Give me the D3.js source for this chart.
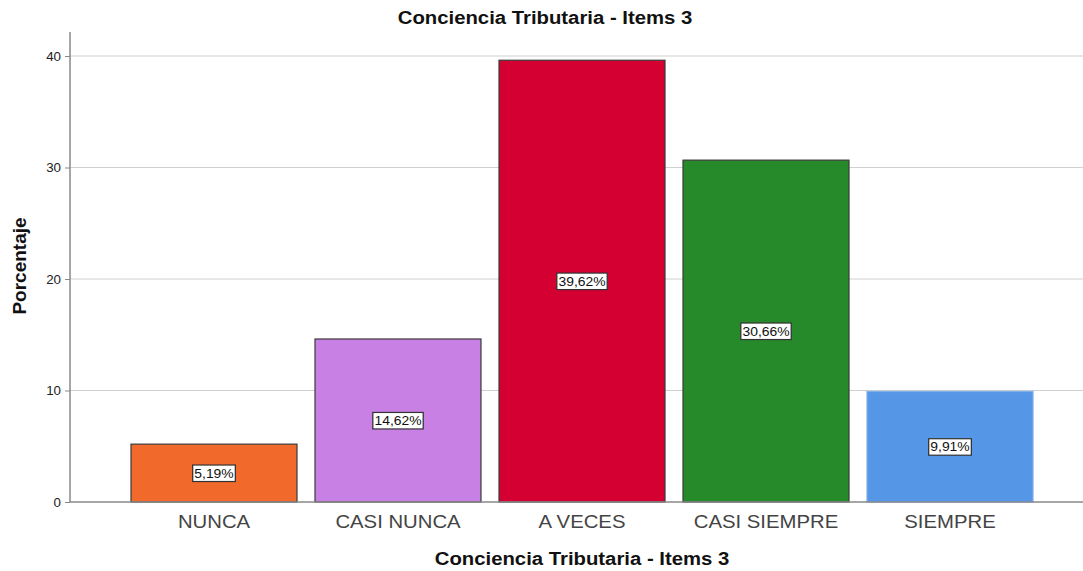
<!DOCTYPE html>
<html>
<head>
<meta charset="utf-8">
<script src="https://cdn.jsdelivr.net/npm/d3@7"></script>
<style>
body { margin: 0; background: #fff; }
svg { font-family: "Liberation Sans", Arial, sans-serif; }
</style>
</head>
<body>
<svg id="chart" width="1083" height="571"></svg>
<script>
var categories = ['NUNCA', 'CASI NUNCA', 'A VECES', 'CASI SIEMPRE', 'SIEMPRE'];
var values = [5.19, 14.62, 39.62, 30.66, 9.91];
var labels = ['5,19%', '14,62%', '39,62%', '30,66%', '9,91%'];
var colors = ['#f2692c', '#c980e4', '#d50032', '#278a2a', '#5596e6'];
var strokes = ['#3a3a3a', '#3a3a3a', '#3a3a3a', '#3a3a3a', '#7fb0ec'];
var yTicks = [0, 10, 20, 30, 40];

var svg = d3.select('#chart');
var x0 = 70, y0 = 502, sx = 1.07;

var x = d3.scaleBand()
	.domain(categories)
	.range([122, 1042])
	.paddingInner(18/184)
	.paddingOuter(9/184);

var y = d3.scaleLinear().domain([0, 40]).range([y0, 56]);

// gridlines
svg.append('g').selectAll('line')
	.data(yTicks.slice(1))
	.enter().append('line')
	.attr('x1', x0).attr('x2', 1083)
	.attr('y1', function(d){ return y(d); })
	.attr('y2', function(d){ return y(d); })
	.attr('stroke', '#d0d0d0').attr('stroke-width', 1.2);

// y axis
var yAxis = svg.append('g')
	.attr('transform', 'translate(' + x0 + ',0)')
	.call(d3.axisLeft(y).tickValues(yTicks).tickSize(5).tickPadding(4));
yAxis.select('.domain').remove();
yAxis.selectAll('.tick line').attr('stroke', '#888');
yAxis.selectAll('text')
	.attr('font-size', 12.5).attr('fill', '#222')
	.attr('font-family', '"Liberation Sans", Arial, sans-serif')
	.attr('transform', 'translate(-9,0) scale(' + sx + ',1)').attr('x', -0);
svg.append('line').attr('x1', x0).attr('x2', x0).attr('y1', 32).attr('y2', y0)
	.attr('stroke', '#888').attr('stroke-width', 1.5);

// bars
svg.append('g').selectAll('rect')
	.data(values)
	.enter().append('rect')
	.attr('x', function(d,i){ return x(categories[i]); })
	.attr('y', function(d){ return y(d); })
	.attr('width', x.bandwidth())
	.attr('height', function(d){ return y0 - y(d); })
	.attr('fill', function(d,i){ return colors[i]; })
	.attr('stroke', function(d,i){ return strokes[i]; })
	.attr('stroke-width', 1.2);

// x axis baseline
svg.append('line').attr('x1', x0).attr('x2', 1083).attr('y1', y0).attr('y2', y0)
	.attr('stroke', '#888').attr('stroke-width', 1.5);

// value labels
var lab = svg.append('g').selectAll('g')
	.data(values)
	.enter().append('g')
	.attr('transform', function(d,i){
		return 'translate(' + (x(categories[i]) + x.bandwidth()/2) + ',' + ((y(d) + y0)/2) + ') scale(' + sx + ',1)';
	});
lab.append('text')
	.attr('text-anchor', 'middle')
	.attr('dy', '.35em')
	.attr('font-size', 13)
	.attr('fill', '#111')
	.text(function(d,i){ return labels[i]; })
	.each(function(){
		var b = this.getBBox();
		d3.select(this.parentNode).insert('rect', 'text')
			.attr('x', b.x - 1.5).attr('y', b.y - 1)
			.attr('width', b.width + 3).attr('height', b.height + 2)
			.attr('fill', '#fff').attr('stroke', '#333').attr('stroke-width', 1.2);
	});

// category labels
svg.append('g').selectAll('text')
	.data(categories)
	.enter().append('text')
	.attr('transform', function(d){ return 'translate(' + (x(d) + x.bandwidth()/2) + ',528) scale(' + sx + ',1)'; })
	.attr('text-anchor', 'middle')
	.attr('font-size', 19)
	.attr('fill', '#444')
	.text(function(d){ return d; });

// titles
svg.append('text').attr('transform', 'translate(545,24) scale(' + sx + ',1)').attr('text-anchor', 'middle')
	.attr('font-size', 19).attr('font-weight', 'bold').attr('fill', '#111')
	.text('Conciencia Tributaria - Items 3');
svg.append('text').attr('transform', 'translate(582,565) scale(' + sx + ',1)').attr('text-anchor', 'middle')
	.attr('font-size', 19).attr('font-weight', 'bold').attr('fill', '#111')
	.text('Conciencia Tributaria - Items 3');
svg.append('text').attr('transform', 'translate(26,266) rotate(-90)').attr('text-anchor', 'middle')
	.attr('font-size', 19).attr('font-weight', 'bold').attr('fill', '#111')
	.text('Porcentaje');
</script>
</body>
</html>
